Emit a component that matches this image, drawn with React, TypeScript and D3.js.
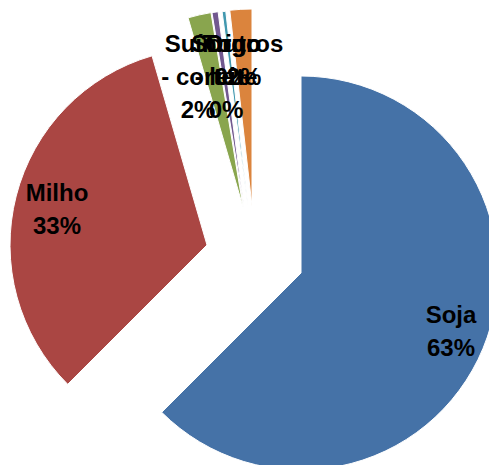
import React from "react";
import * as d3 from "d3";

const categories = ["Soja", "Milho", "Suíno - corte", "Sorgo - leite", "Trigo", "Outros"];
const values = [62.5, 33.0, 1.9, 0.5, 0.3, 1.8];
const percentLabels = ["63%", "33%", "2%", "0%", "0%", "2%"];
const labelLines = [["Soja"], ["Milho"], ["Suíno", "- corte"], ["Sorgo", "- leite"], ["Trigo"], ["Outros"]];
const colors = ["#4572A7", "#AA4643", "#89A54E", "#71588F", "#4198AF", "#DB843D"];

const W = 489;
const H = 465;
const CX = 301;
const CY = 273;
const R = 197;
// explode offsets per slice (layout)
const offsets: [number, number][] = [[0, 0], [-94, -28], [-58, -66], [-57, -66], [-53, -66], [-49, -67]];
// label anchors (layout)
const labelPos: [number, number][] = [[451, 323], [57, 201], [198, 52], [226, 52], [232, 52], [244, 52]];
const LINE = 33;

export default function App() {
  const pie = d3.pie<number>().sort(null).startAngle(0).endAngle(2 * Math.PI);
  const arcs = pie(values);
  const arc = d3.arc<d3.PieArcDatum<number>>().innerRadius(0).outerRadius(R);
  return (
    <svg width={W} height={H} style={{ position: "absolute", left: 0, top: 0 }}>
      <rect width={W} height={H} fill="#fff" />
      {arcs.map((a, i) => (
        <path
          key={categories[i]}
          d={arc(a) || ""}
          transform={`translate(${CX + offsets[i][0]},${CY + offsets[i][1]})`}
          fill={colors[i]}
          stroke="#fff"
          strokeWidth={1}
        />
      ))}
      {arcs.map((a, i) => {
        const lines = [...labelLines[i], percentLabels[i]];
        return (
          <text
            key={"l" + i}
            x={labelPos[i][0]}
            y={labelPos[i][1]}
            textAnchor="middle"
            fontFamily="'Liberation Sans', Arial, sans-serif"
            fontWeight="bold"
            fontSize={24}
            fill="#000"
          >
            {lines.map((t, j) => (
              <tspan key={j} x={labelPos[i][0]} dy={j === 0 ? 0 : LINE}>
                {t}
              </tspan>
            ))}
          </text>
        );
      })}
    </svg>
  );
}
